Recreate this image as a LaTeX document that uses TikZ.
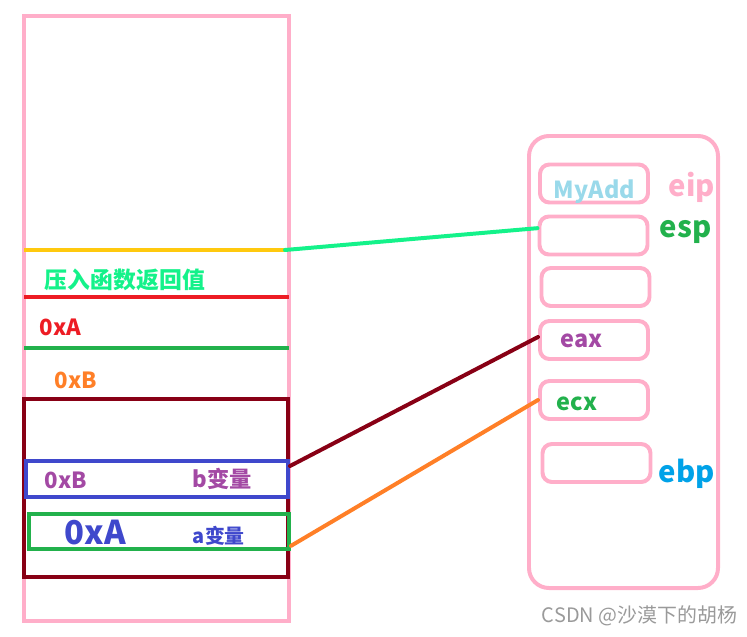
\documentclass[tikz,border=0pt]{standalone}
\usepackage{fontspec}
\setmainfont{Noto Sans CJK SC}
\usetikzlibrary{calc,positioning}
\definecolor{rose}{HTML}{FFAEC9}
\definecolor{wine}{HTML}{880015}
\definecolor{redline}{HTML}{ED1C24}
\definecolor{gold}{HTML}{FFC90E}
\definecolor{leaf}{HTML}{22B14C}
\definecolor{spring}{HTML}{14F28A}
\definecolor{tang}{HTML}{FF7F27}
\definecolor{indigo}{HTML}{3F48CC}
\definecolor{plum}{HTML}{A349A4}
\definecolor{sky}{HTML}{99D9EA}
\definecolor{azure}{HTML}{00A2E8}
\definecolor{wmgray}{HTML}{9A9A9A}

\begin{document}
\begin{tikzpicture}[x=0.03cm,y=-0.03cm,line width=3.4pt,
    reg/.style={rounded corners=8pt,draw=rose,minimum width=3.24cm,minimum height=1.14cm},
    lbl/.style={anchor=west,inner sep=0pt,font=\bfseries\fontsize{#1}{#1}\selectfont}]
  \useasboundingbox (0,0) rectangle (747,636);
  % stack
  \draw[rose] (24,16) rectangle (289,621);
  \draw[gold] (24,250) -- (285,250);
  \coordinate (ret) at (285,250);
  \draw[redline] (24,297) -- (289,297);
  \draw[leaf] (24,348) -- (289,348);
  \node[lbl=19.5pt,text=spring] (retv) at (43,280) {压入函数返回值};
  \node[lbl=19pt,text=redline] (pa) at (38,327) {0xA};
  \node[lbl=19pt,text=tang] (pb) at (53,380) {0xB};
  \node[draw=wine,minimum width=7.92cm,minimum height=5.34cm] (frame) at (156,488) {};
  \node[draw=indigo,minimum width=7.86cm,minimum height=1.08cm] (bbox) at (157,479) {};
  \node[draw=leaf,minimum width=7.8cm,minimum height=1.05cm] (abox) at (159,531.5) {};
  \node[lbl=19pt,text=plum] (bval) at (43,480) {0xB};
  \node[lbl=19pt,text=plum] (bname) at (191,479) {b变量};
  \node[lbl=28pt,text=indigo] (aval) at (63,533) {0xA};
  \node[lbl=17pt,text=indigo] (aname) at (191,536) {a变量};
  % registers
  \node[draw=rose,rounded corners=0.6cm,minimum width=5.67cm,minimum height=13.56cm] (panel) at (623.5,362) {};
  \node[reg] (r1) at (594,183.5) {};
  \node[reg] (r2) at (593.5,235.5) {};
  \node[reg] (r3) at (595.5,287) {};
  \node[reg] (eax) at (594,340) {};
  \node[reg] (ecx) at (594,400) {};
  \node[reg] (r6) at (596.5,463) {};
  \node[lbl=20pt,text=sky] (fn) at (552,192) {MyAdd};
  \node[lbl=25pt,text=rose] (eip) at (667,187) {eip};
  \node[lbl=25pt,text=leaf] (esp) at (658,232) {esp};
  \node[lbl=20pt,text=plum] (eaxl) at (559,341) {eax};
  \node[lbl=20pt,text=leaf] (ecxl) at (555,404) {ecx};
  \node[lbl=25pt,text=azure] (ebp) at (657,474) {ebp};
  \node[anchor=west,inner sep=0pt,text=wmgray,font=\fontsize{17pt}{17pt}\selectfont] (wm) at (540,616) {CSDN @沙漠下的胡杨};
  % links
  \draw[spring,line cap=round] (ret) -- ([yshift=0.22cm]r2.west);
  \draw[wine,line cap=round] ([yshift=0.39cm]bbox.east) -- ([yshift=0.09cm]eax.west);
  \draw[tang,line cap=round] ([yshift=-0.43cm]abox.east) -- (ecx.west);
\end{tikzpicture}
\end{document}
